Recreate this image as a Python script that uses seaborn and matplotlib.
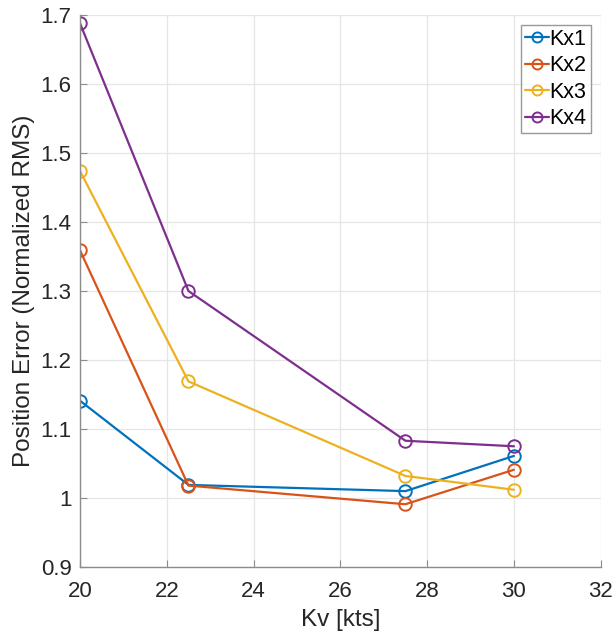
import matplotlib
matplotlib.use("Agg")
import matplotlib.pyplot as plt
import seaborn as sns
import pandas as pd

kv = [20, 22.5, 27.5, 30]
kx1 = [1.141, 1.019, 1.010, 1.061]
kx2 = [1.359, 1.018, 0.991, 1.041]
kx3 = [1.474, 1.169, 1.032, 1.012]
kx4 = [1.688, 1.300, 1.083, 1.075]
series_names = ["Kx1", "Kx2", "Kx3", "Kx4"]
colors = ["#0072BD", "#D95319", "#EDB120", "#7E2F8E"]
xticks = [20, 22, 24, 26, 28, 30, 32]
yticks = [0.9, 1.0, 1.1, 1.2, 1.3, 1.4, 1.5, 1.6, 1.7]
yticklabels = ["0.9", "1", "1.1", "1.2", "1.3", "1.4", "1.5", "1.6", "1.7"]

sns.set_theme(style="white")
plt.rcParams["font.family"] = ["Liberation Sans", "DejaVu Sans"]

fig = plt.figure(figsize=(6.14, 6.41), dpi=100)
ax = fig.add_axes([0.1303, 0.1154, 0.848, 0.8612])

for name, vals, c in zip(series_names, [kx1, kx2, kx3, kx4], colors):
    df = pd.DataFrame({"Kv": kv, "err": vals})
    sns.lineplot(data=df, x="Kv", y="err", ax=ax, color=c, marker="o",
                 markersize=9, markerfacecolor="none", markeredgecolor=c,
                 markeredgewidth=1.4, linewidth=1.6, label=name)

ax.set_xlim(20, 32)
ax.set_ylim(0.9, 1.7)
ax.set_xticks(xticks)
ax.set_xticklabels([str(t) for t in xticks])
ax.set_yticks(yticks)
ax.set_yticklabels(yticklabels)
ax.grid(True, color="#e6e6e6", linewidth=0.9)
ax.set_axisbelow(True)
for s in ["top", "right"]:
    ax.spines[s].set_visible(False)
for s in ["left", "bottom"]:
    ax.spines[s].set_color("#8c8c8c")
    ax.spines[s].set_linewidth(1.0)
ax.tick_params(direction="in", length=5, width=0.8, color="#8c8c8c",
               labelsize=16, labelcolor="#262626", left=True, bottom=True)
ax.tick_params(axis="x", pad=10)
ax.tick_params(axis="y", pad=6)
ax.set_xlabel("Kv [kts]", fontsize=17.5, color="#262626", labelpad=5)
ax.set_ylabel("Position Error (Normalized RMS)", fontsize=17.5, color="#262626", labelpad=4)

leg = ax.legend(loc="upper right", fontsize=15.5, frameon=True, fancybox=False,
                handlelength=1.1, handletextpad=0.05, borderpad=0.2,
                labelspacing=0.25, borderaxespad=0.45, markerscale=0.8)
leg.get_frame().set_edgecolor("#7f7f7f")
leg.get_frame().set_linewidth(1.0)
for t in leg.get_texts():
    t.set_color("#000000")

fig.savefig("out.png", dpi=100)
